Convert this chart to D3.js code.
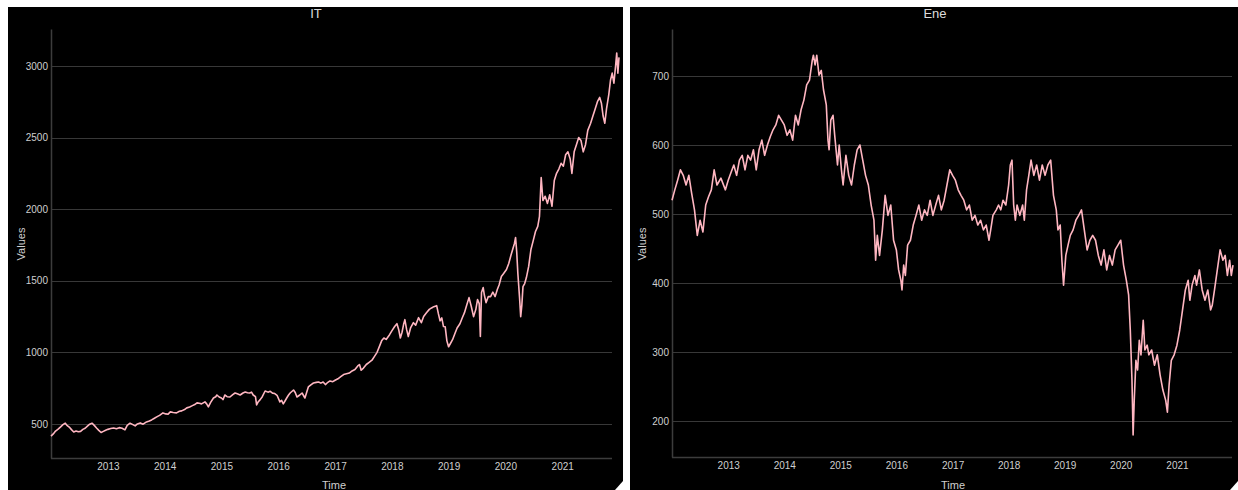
<!DOCTYPE html>
<html>
<head>
<meta charset="utf-8">
<script src="https://cdn.jsdelivr.net/npm/d3@7"></script>
<style>
  html, body { margin: 0; padding: 0; background: #fff; }
  svg { display: block; }
  text { font-family: "Liberation Sans", Arial, sans-serif; }
</style>
</head>
<body>
<svg id="chart" width="1238" height="490"></svg>
<script>
// IT sector index, sampled as (decimal year, value)
const itYears = [
  2012.00,2012.04,2012.08,2012.12,2012.17,2012.21,2012.25,2012.28,2012.32,2012.36,2012.40,2012.44,2012.48,2012.52,2012.56,2012.60,2012.64,2012.68,2012.72,2012.76,2012.80,2012.84,2012.88,2012.92,2012.96,
  2013.00,2013.05,2013.10,2013.15,2013.20,2013.25,2013.30,2013.34,2013.39,2013.44,2013.48,2013.52,2013.57,2013.62,2013.68,2013.73,2013.77,2013.82,2013.86,2013.91,2013.97,
  2014.02,2014.06,2014.10,2014.15,2014.21,2014.26,2014.30,2014.35,2014.39,2014.44,2014.48,2014.53,2014.57,2014.61,2014.65,2014.71,2014.74,2014.77,2014.81,2014.86,2014.90,2014.92,2014.96,
  2015.00,2015.03,2015.06,2015.10,2015.15,2015.20,2015.24,2015.28,2015.33,2015.38,2015.42,2015.46,2015.50,2015.53,2015.56,2015.60,2015.62,2015.65,2015.68,2015.72,2015.77,2015.82,2015.86,2015.90,2015.94,2015.98,
  2016.03,2016.06,2016.09,2016.12,2016.15,2016.18,2016.21,2016.27,2016.30,2016.33,2016.38,2016.42,2016.47,2016.50,2016.53,2016.58,2016.62,2016.67,2016.71,2016.75,2016.79,2016.83,2016.86,2016.91,2016.96,
  2017.00,2017.05,2017.10,2017.15,2017.20,2017.25,2017.30,2017.35,2017.40,2017.43,2017.46,2017.50,2017.55,2017.60,2017.65,2017.70,2017.74,2017.78,2017.82,2017.86,2017.90,2017.96,
  2018.00,2018.05,2018.09,2018.12,2018.15,2018.18,2018.21,2018.23,2018.26,2018.29,2018.33,2018.38,2018.42,2018.47,2018.52,2018.56,2018.61,2018.66,2018.70,2018.74,2018.79,2018.82,2018.85,2018.88,2018.91,2018.94,2018.97,
  2019.00,2019.03,2019.07,2019.11,2019.15,2019.20,2019.24,2019.28,2019.32,2019.36,2019.40,2019.44,2019.48,2019.51,2019.54,2019.56,2019.58,2019.61,2019.63,2019.66,2019.70,2019.74,2019.78,2019.82,2019.86,2019.89,2019.93,2019.97,
  2020.02,2020.06,2020.10,2020.13,2020.16,2020.18,2020.20,2020.22,2020.25,2020.27,2020.29,2020.31,2020.34,2020.37,2020.41,2020.45,2020.49,2020.53,2020.57,2020.60,2020.63,2020.66,2020.70,2020.74,2020.78,2020.82,2020.86,2020.90,2020.94,2020.98,
  2021.02,2021.06,2021.10,2021.14,2021.17,2021.21,2021.25,2021.29,2021.33,2021.37,2021.41,2021.45,2021.50,2021.54,2021.58,2021.62,2021.66,2021.69,2021.72,2021.75,2021.78,2021.82,2021.85,2021.88,2021.91,2021.94,2021.96,2021.98,2022.00
];
const itValues = [
  415,430,450,462,480,495,505,490,478,460,444,450,445,448,462,470,485,498,505,490,472,455,440,448,456,
  462,468,472,466,474,470,458,490,505,495,486,500,507,498,514,520,528,540,549,560,577,
  570,568,584,580,577,588,591,600,612,618,626,635,647,644,640,654,640,619,650,681,690,702,688,
  681,670,702,690,688,705,716,710,702,716,723,718,716,722,702,690,633,655,668,690,730,722,728,715,712,700,
  654,665,640,660,681,700,716,737,720,688,702,716,681,720,758,775,786,790,793,785,793,775,786,800,795,
  805,815,830,845,850,855,870,880,905,915,875,890,915,930,945,975,1000,1040,1080,1100,1090,1123,
  1150,1180,1200,1160,1100,1140,1200,1228,1160,1110,1170,1207,1190,1242,1207,1250,1277,1300,1310,1319,1326,1270,1220,1240,1180,1179,1080,
  1039,1060,1088,1130,1170,1200,1240,1277,1330,1382,1320,1249,1300,1368,1340,1111,1417,1452,1400,1347,1390,1389,1420,1389,1440,1470,1529,1550,
  1578,1620,1680,1720,1760,1802,1700,1550,1380,1249,1330,1459,1480,1522,1600,1718,1780,1844,1880,1950,2220,2060,2090,2040,2100,2020,2200,2250,2280,2320,
  2300,2380,2400,2350,2250,2400,2450,2500,2480,2400,2450,2550,2600,2650,2700,2750,2780,2740,2650,2600,2700,2800,2900,2950,2880,3000,3090,2950,3060
];

// Energy sector index, sampled as (decimal year, value)
const eneYears = [
  2012.00,2012.05,2012.10,2012.15,2012.20,2012.25,2012.30,2012.35,2012.40,2012.45,2012.50,2012.55,2012.60,2012.65,2012.70,2012.75,2012.80,2012.87,2012.95,
  2013.00,2013.05,2013.10,2013.15,2013.20,2013.25,2013.30,2013.35,2013.40,2013.45,2013.50,2013.55,2013.60,2013.65,2013.70,2013.75,2013.80,2013.85,2013.90,2013.95,
  2014.00,2014.05,2014.10,2014.15,2014.20,2014.25,2014.30,2014.35,2014.40,2014.45,2014.50,2014.52,2014.55,2014.58,2014.62,2014.66,2014.70,2014.75,2014.78,2014.80,2014.83,2014.87,2014.90,2014.95,2014.98,
  2015.02,2015.05,2015.10,2015.15,2015.20,2015.25,2015.30,2015.35,2015.40,2015.45,2015.50,2015.55,2015.60,2015.63,2015.66,2015.70,2015.75,2015.80,2015.85,2015.90,2015.95,
  2016.00,2016.04,2016.08,2016.10,2016.13,2016.16,2016.20,2016.25,2016.30,2016.35,2016.40,2016.45,2016.50,2016.55,2016.60,2016.65,2016.70,2016.75,2016.80,2016.85,2016.90,2016.95,
  2017.00,2017.05,2017.10,2017.15,2017.20,2017.25,2017.30,2017.35,2017.40,2017.45,2017.50,2017.55,2017.60,2017.65,2017.68,2017.72,2017.78,2017.82,2017.86,2017.90,2017.95,
  2018.00,2018.03,2018.06,2018.09,2018.12,2018.15,2018.20,2018.25,2018.28,2018.32,2018.36,2018.40,2018.45,2018.50,2018.55,2018.60,2018.65,2018.70,2018.75,2018.80,2018.85,2018.88,2018.92,2018.95,2018.98,
  2019.02,2019.06,2019.10,2019.15,2019.20,2019.25,2019.30,2019.35,2019.40,2019.45,2019.50,2019.55,2019.60,2019.65,2019.70,2019.75,2019.80,2019.85,2019.90,2019.95,
  2020.00,2020.05,2020.10,2020.14,2020.17,2020.20,2020.22,2020.24,2020.27,2020.30,2020.33,2020.36,2020.40,2020.43,2020.47,2020.50,2020.55,2020.60,2020.65,2020.70,2020.75,2020.80,2020.83,2020.86,2020.90,2020.95,
  2021.00,2021.05,2021.10,2021.15,2021.20,2021.23,2021.27,2021.32,2021.35,2021.40,2021.45,2021.50,2021.55,2021.60,2021.63,2021.67,2021.72,2021.77,2021.82,2021.86,2021.90,2021.94,2021.97,2022.00
];
const eneValues = [
  520,535,549,564,556,542,556,530,506,469,491,474,513,525,535,564,542,552,535,
  549,560,571,556,578,585,564,585,578,593,564,593,607,585,600,612,622,629,643,636,
  629,614,622,607,643,629,651,665,687,694,723,730,716,730,701,708,680,658,607,593,636,643,614,571,600,
  564,542,585,556,542,571,593,600,578,556,542,513,491,433,469,440,477,527,498,513,462,
  448,419,404,390,426,411,455,462,484,498,513,491,506,498,520,498,513,527,506,520,542,564,
  556,549,535,527,520,506,513,491,498,484,491,477,484,462,477,498,506,513,506,520,513,
  542,571,578,513,491,513,498,513,491,535,556,578,556,571,549,571,556,571,578,527,506,477,484,433,397,
  440,455,469,477,491,498,506,477,448,462,469,462,440,426,448,419,440,426,448,455,
  462,426,404,383,332,259,180,230,288,274,317,296,346,303,310,296,303,281,296,267,245,230,213,252,288,296,
  310,332,361,390,404,375,397,411,397,419,390,375,390,361,368,390,419,448,433,440,411,433,411,426
];

const yearTicks = [2013, 2014, 2015, 2016, 2017, 2018, 2019, 2020, 2021];
const itTicks = [500, 1000, 1500, 2000, 2500, 3000];
const eneTicks = [200, 300, 400, 500, 600, 700];

// decimal year -> UTC date
function toDate(y) {
  const yr = Math.floor(y);
  const start = Date.UTC(yr, 0, 1);
  const end = Date.UTC(yr + 1, 0, 1);
  return new Date(start + (y - yr) * (end - start));
}

const svg = d3.select("#chart");

const panels = [
  {
    title: "IT", years: itYears, values: itValues, ticks: itTicks,
    bg: [8, 7, 615, 483],
    x: [51, 619], y: [458, 29], domain: [262, 3258],
    gridEnd: 612, titleX: 316, timeX: 334, valuesX: 21
  },
  {
    title: "Ene", years: eneYears, values: eneValues, ticks: eneTicks,
    bg: [630, 7, 608, 483],
    x: [672, 1233], y: [457, 29], domain: [148, 768],
    gridEnd: 1232, titleX: 935, timeX: 953, valuesX: 642
  }
];

panels.forEach(p => {
  const g = svg.append("g");

  g.append("rect")
    .attr("x", p.bg[0]).attr("y", p.bg[1])
    .attr("width", p.bg[2]).attr("height", p.bg[3])
    .attr("fill", "#000");

  const x = d3.scaleUtc()
    .domain([toDate(2012), toDate(2022)])
    .range(p.x);
  const y = d3.scaleLinear().domain(p.domain).range(p.y);

  // horizontal grid
  g.append("g")
    .selectAll("line")
    .data(p.ticks)
    .join("line")
    .attr("x1", p.x[0]).attr("x2", p.gridEnd)
    .attr("y1", d => Math.round(y(d)) + 0.5)
    .attr("y2", d => Math.round(y(d)) + 0.5)
    .attr("stroke", "#383838")
    .attr("stroke-width", 1.2);

  // y axis
  const yAxis = g.append("g")
    .attr("transform", `translate(${p.x[0]},0)`)
    .call(d3.axisLeft(y).tickValues(p.ticks).tickFormat(d3.format("d"))
      .tickSize(0).tickPadding(3));
  yAxis.select(".domain").attr("stroke", "#3c3c3c").attr("stroke-width", 1.5);
  yAxis.selectAll("text").attr("fill", "#cfcfcf").style("font-size", "10px");

  // x axis
  const xAxis = g.append("g")
    .attr("transform", `translate(0,${p.y[0]})`)
    .call(d3.axisBottom(x)
      .tickValues(yearTicks.map(v => toDate(v)))
      .tickFormat(d3.utcFormat("%Y"))
      .tickSize(0).tickPadding(5));
  xAxis.select(".domain")
    .attr("d", `M${p.x[0]},0.5H${p.gridEnd}`)
    .attr("stroke", "#3c3c3c").attr("stroke-width", 1.5);
  xAxis.selectAll("text").attr("fill", "#cfcfcf").style("font-size", "10px");

  // series line
  const pts = p.years.map((t, i) => [toDate(t), p.values[i]]);
  g.append("path")
    .datum(pts)
    .attr("fill", "none")
    .attr("stroke", "#ffb6c1")
    .attr("stroke-width", 1.6)
    .attr("stroke-linejoin", "round")
    .attr("d", d3.line().x(d => x(d[0])).y(d => y(d[1])));

  // titles and axis labels
  g.append("text")
    .attr("x", p.titleX).attr("y", 18)
    .attr("text-anchor", "middle")
    .attr("fill", "#dcdcdc")
    .style("font-size", "13px")
    .text(p.title);

  g.append("text")
    .attr("x", p.timeX).attr("y", 489)
    .attr("text-anchor", "middle")
    .attr("fill", "#cfcfcf")
    .style("font-size", "11px")
    .text("Time");

  g.append("text")
    .attr("transform", `translate(${p.valuesX},244) rotate(-90)`)
    .attr("text-anchor", "middle")
    .attr("dy", "0.35em")
    .attr("fill", "#cfcfcf")
    .style("font-size", "11px")
    .text("Values");

  // resize grip in the lower-right corner of the panel
  const rx = p.bg[0] + p.bg[2], by = 490;
  g.append("path")
    .attr("d", `M${rx},${by - 9}L${rx},${by}L${rx - 8},${by}Z`)
    .attr("fill", "#fff");
});
</script>
</body>
</html>
